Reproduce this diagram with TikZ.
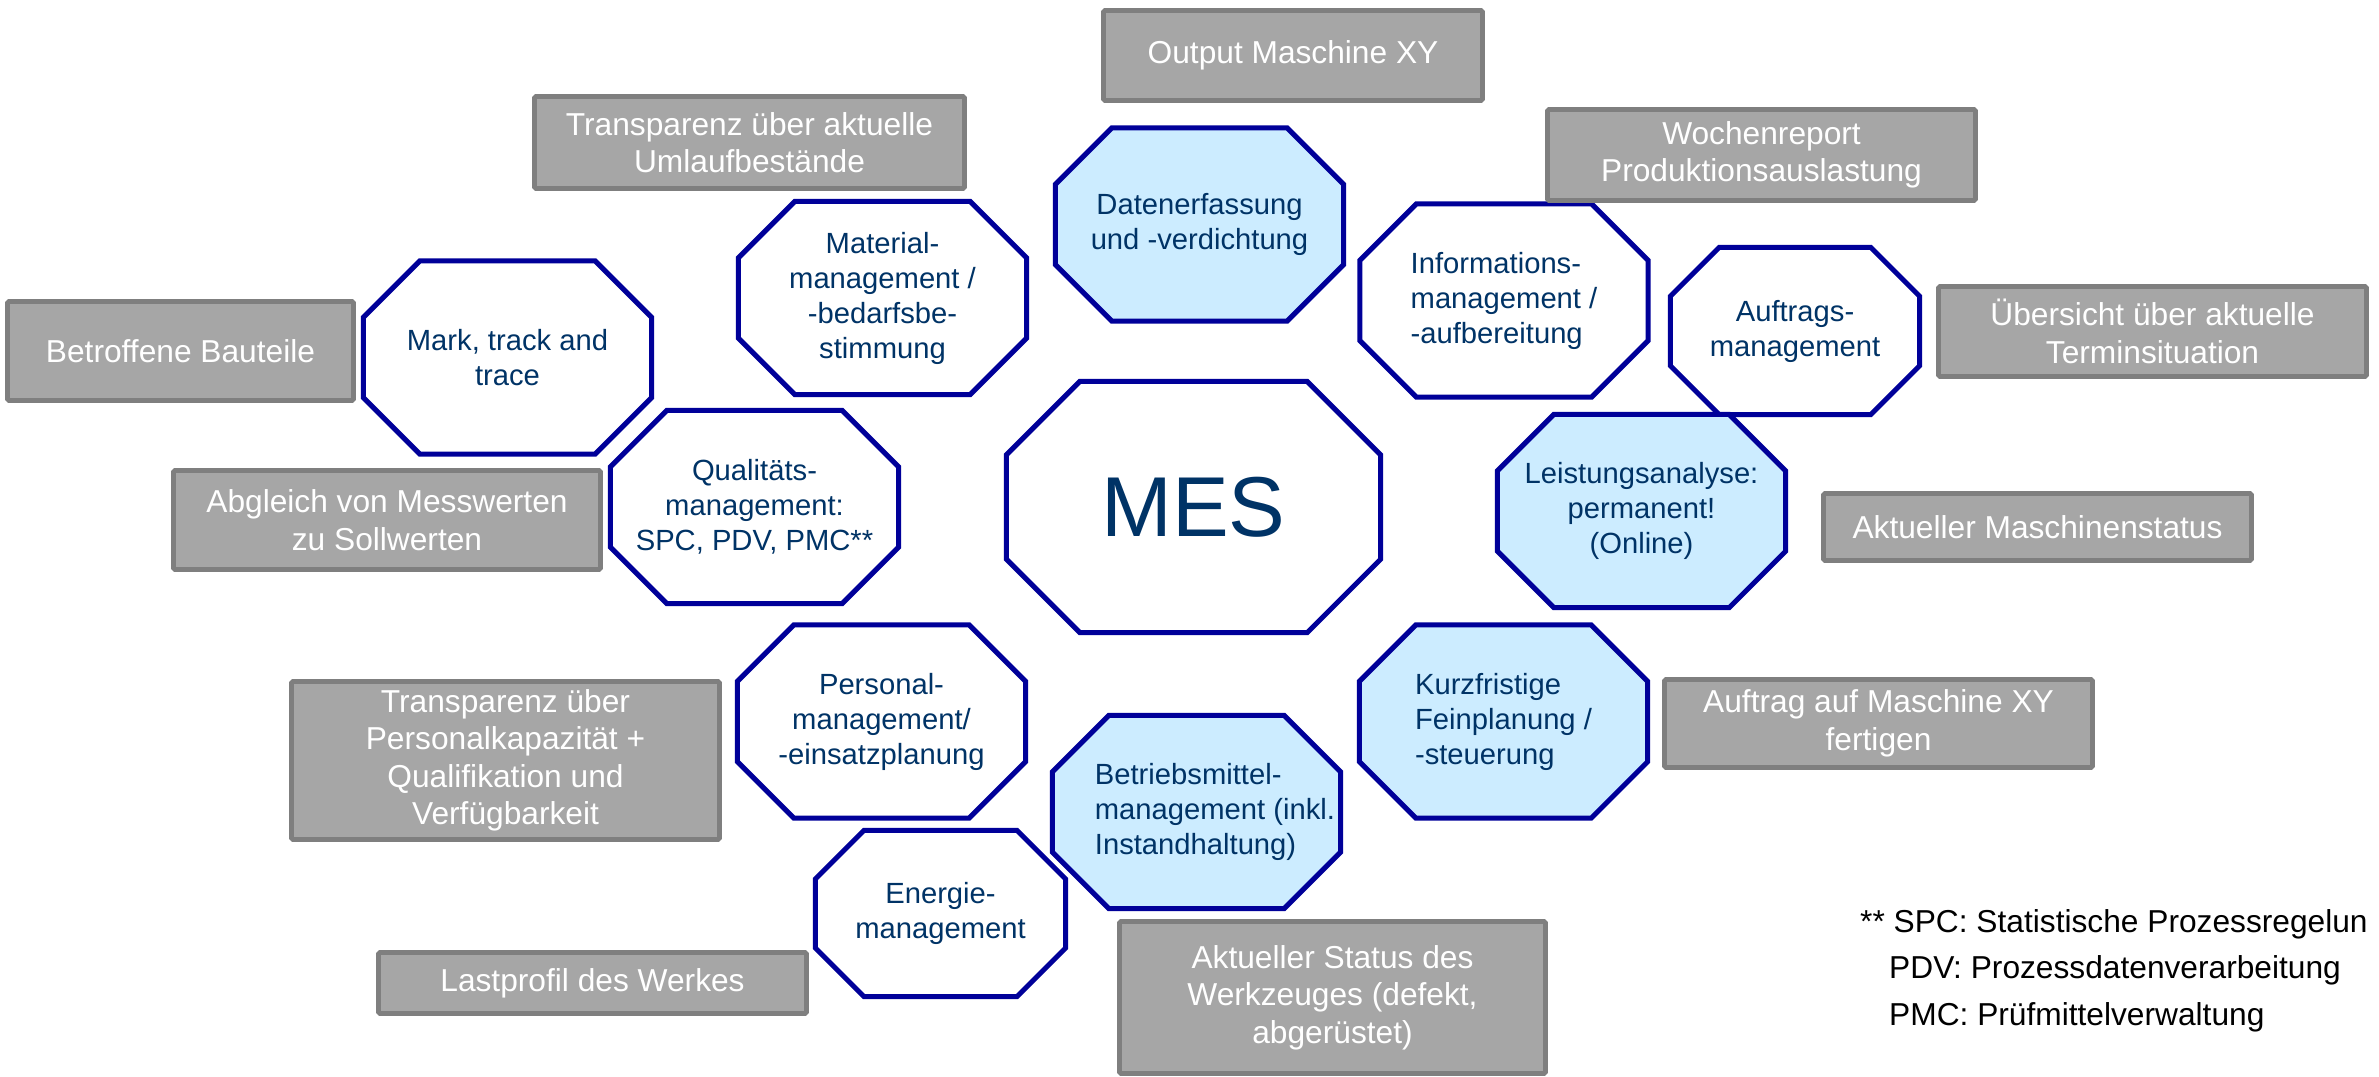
\documentclass[tikz,border=0pt]{standalone}
\usepackage{fontspec}
\setmainfont{Liberation Sans}
\usetikzlibrary{calc,backgrounds}

\definecolor{boxfill}{HTML}{A6A6A6}
\definecolor{boxline}{HTML}{7F7F7F}
\definecolor{octline}{HTML}{000099}
\definecolor{octtext}{HTML}{003366}
\definecolor{octblue}{HTML}{CCECFF}

\begin{document}
\begin{tikzpicture}[x=1pt,y=-1pt,
    info/.style={draw=boxline,fill=boxfill,line width=4.7pt,rounded corners=1.5pt,inner sep=0pt,text=white,align=center,font=\fontsize{31.7}{37.5}\selectfont},
    oct/.style={minimum width=288pt,minimum height=193pt,inner sep=0pt,text=octtext,align=center,font=\fontsize{29.2}{35}\selectfont}]

        \useasboundingbox (0,0) rectangle (2379,1076);

        \node [oct] (daten) at (1199.5,224.5) {Datenerfassung\\und -verdichtung};
        \node [oct] (material) at (882.5,298) {Material-\\management /\\-bedarfsbe-\\stimmung};
        \node [oct, align=left] (info) at (1504,300.5) {Informations-\\management /\\-aufbereitung};
        \node [oct] (mark) at (507.5,357.5) {Mark, track and\\trace};
        \node [oct, minimum width=249pt, minimum height=167pt] (auftrag) at (1795,331) {Auftrags-\\management};
        \node [oct, minimum width=374pt, minimum height=251pt, font=\fontsize{85}{100}\selectfont] (mes) at (1193.5,507) {MES};
        \node [oct] (quali) at (754.5,507) {Qualitäts-\\management:\\SPC, PDV, PMC**};
        \node [oct] (leistung) at (1641.5,511) {Leistungsanalyse:\\permanent!\\(Online)};
        \node [oct] (personal) at (881.5,721.5) {Personal-\\management/\\-einsatzplanung};
        \node [oct, align=left] (kurz) at (1503.5,721.5) {Kurzfristige\\Feinplanung /\\-steuerung};
        \node [oct, align=left] (betrieb) at (1196.5,812) {\hspace*{37pt}Betriebsmittel-\\\hspace*{37pt}management (inkl.\\\hspace*{37pt}Instandhaltung)};
        \node [oct, minimum width=250pt, minimum height=166pt] (energie) at (940.5,913.5) {Energie-\\management};

        \begin{scope}[on background layer]
          \foreach \nd/\fc in {daten/octblue,material/white,info/white,mark/white,auftrag/white,mes/white,
                               quali/white,leistung/octblue,personal/white,kurz/octblue,betrieb/octblue,energie/white}
            \filldraw [draw=octline,line width=5pt,fill=\fc]
              let \p1=(\nd.south west), \p2=(\nd.north east), \n1={0.2929*(\y2-\y1)} in
              (\x1+\n1,\y1) -- (\x2-\n1,\y1) -- (\x2,\y1+\n1) -- (\x2,\y2-\n1)
              -- (\x2-\n1,\y2) -- (\x1+\n1,\y2) -- (\x1,\y2-\n1) -- (\x1,\y1+\n1) -- cycle;
        \end{scope}

        \node [info, minimum width=379pt, minimum height=90pt] (output) at (1293,55.5) {Output Maschine XY};
        \node [info, minimum width=430pt, minimum height=92pt] (bestand) at (749.5,142.5) {Transparenz über aktuelle\\Umlaufbestände};
        \node [info, minimum width=428pt, minimum height=91pt] (woche) at (1761.5,155) {Wochenreport\\Produktionsauslastung};
        \node [info, minimum width=346pt, minimum height=99pt] (bauteile) at (180.5,351) {Betroffene Bauteile};
        \node [info, minimum width=428pt, minimum height=90pt] (termin) at (2152.5,331.5) {Übersicht über aktuelle\\Terminsituation};
        \node [info, minimum width=427pt, minimum height=99pt] (mess) at (387,520) {Abgleich von Messwerten\\zu Sollwerten};
        \node [info, minimum width=428pt, minimum height=67pt] (status) at (2037.5,527) {Aktueller Maschinenstatus};
        \node [info, minimum width=428pt, minimum height=158pt] (kapa) at (505.5,760.5) {Transparenz über\\Personalkapazität +\\Qualifikation und\\Verfügbarkeit};
        \node [info, minimum width=428pt, minimum height=88pt] (fertigen) at (1878.5,723.5) {Auftrag auf Maschine XY\\fertigen};
        \node [info, minimum width=428pt, minimum height=61pt] (last) at (592.5,983) {Lastprofil des Werkes};
        \node [info, minimum width=426pt, minimum height=152pt] (werkzeug) at (1332.5,997.5) {Aktueller Status des\\Werkzeuges (defekt,\\abgerüstet)};

        \node [anchor=north west, align=left, inner sep=0pt, font=\fontsize{31.7}{46.5}\selectfont] (note) at (1860,909)
          {** SPC: Statistische Prozessregelun\\\hspace*{29pt}PDV: Prozessdatenverarbeitung\\\hspace*{29pt}PMC: Prüfmittelverwaltung};
\end{tikzpicture}
\end{document}
